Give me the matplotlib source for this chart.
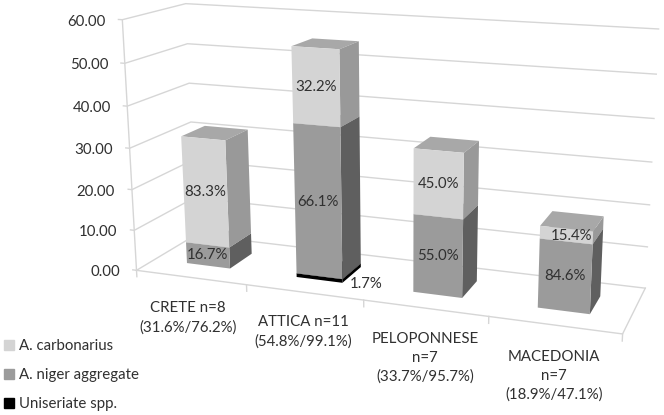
import numpy as np
import matplotlib
matplotlib.use("Agg")
import matplotlib.pyplot as plt
from matplotlib.patches import Patch

plt.rcParams['font.family'] = ['Lato', 'DejaVu Sans']

# ---- data
categories = ["CRETE n=8\n(31.6%/76.2%)", "ATTICA n=11\n(54.8%/99.1%)",
              "PELOPONNESE\nn=7\n(33.7%/95.7%)", "MACEDONIA\nn=7\n(18.9%/47.1%)"]
uniseriate = [0.0, 0.9, 0.0, 0.0]
niger = [5.3, 36.2, 18.5, 16.0]
carbonarius = [26.3, 17.7, 15.2, 2.9]
uniseriate_labels = ["", "1.7%", "", ""]
niger_labels = ["16.7%", "66.1%", "55.0%", "84.6%"]
carbonarius_labels = ["83.3%", "32.2%", "45.0%", "15.4%"]
y_ticks = [0, 10, 20, 30, 40, 50, 60]
legend_labels = ["A. carbonarius", "A. niger aggregate", "Uniseriate spp."]

# ---- camera calibration: (category axis, depth, value) -> picture pixel
calib = [
    (0, 0, 0, 137, 270), (0, 0, 10, 133.5, 230), (0, 0, 20, 131.5, 190),
    (0, 0, 30, 129, 148), (0, 0, 40, 127.5, 106), (0, 0, 50, 125, 63),
    (0, 0, 60, 122.7, 20),
    (0, 1, 60, 185, 4), (0, 1, 50, 187.7, 44), (0, 1, 40, 189.3, 83),
    (0, 1, 30, 191, 122),
    (4, 1, 60, 659, 29), (4, 1, 50, 656, 74), (4, 1, 40, 654, 118),
    (4, 1, 30, 652, 162), (4, 1, 20, 649, 205), (4, 1, 10, 648, 247),
    (4, 1, 0, 645, 288),
    (1, 0, 0, 247, 285), (2, 0, 0, 364, 300), (3, 0, 0, 489, 317),
    (4, 0, 0, 622, 334),
]
rows = []
for u, d, v, px, py in calib:
    rows.append([u, d, v, 1, 0, 0, 0, 0, -px*u, -px*d, -px*v, -px])
    rows.append([0, 0, 0, 0, u, d, v, 1, -py*u, -py*d, -py*v, -py])
P = np.linalg.svd(np.array(rows, float))[2][-1].reshape(3, 4)
if P[2, 3] < 0:
    P = -P

W, H = 664, 415
fig = plt.figure(figsize=(W/100, H/100), dpi=100)
fig.patch.set_facecolor("white")
ax = fig.add_axes([0, 0, 1, 1], projection="3d", computed_zorder=False,
                  proj_type="ortho")
ax.set_axis_off()
ax.apply_aspect = lambda *a, **k: None


def get_proj():
    T = ax.transData.inverted().get_matrix() @ np.array(
        [[1, 0, 0], [0, -1, H], [0, 0, 1]], float)
    A = np.array([[T[0, 0], T[0, 1], 0, T[0, 2]],
                  [T[1, 0], T[1, 1], 0, T[1, 2]],
                  [0, 0, 1, 0],
                  [0, 0, 0, 1]], float)
    M = np.vstack([P[0], P[1], [0, 1, 0, 0], P[2]])
    return A @ M


ax.get_proj = get_proj


def pixel(u, d, v):
    x, y, w = P @ np.array([u, d, v, 1.0])
    return x/w, y/w


def label(px, py, s, **kw):
    kw.setdefault("ha", "center")
    fig.text(px/W, 1 - py/H, s, va="center", color=TXT, fontsize=FS, **kw)


# ---- walls, floor and ticks
GRID = "#d6d6d6"
n = len(categories)
for v in y_ticks:
    ax.plot([-0.035, 0, 0, n], [0, 0, 1, 1], [v, v, v, v], color=GRID, lw=1, zorder=1)
ax.plot([0, 0], [0, 0], [0, 60], color=GRID, lw=1, zorder=1)
ax.plot([0, n, n], [0, 0, 1], [0, 0, 0], color=GRID, lw=1, zorder=1)
for i in range(n + 1):
    ax.plot([i, i], [0, 0], [0, -1.6], color=GRID, lw=1, zorder=1)

# ---- bars (faces: bottom, top, front, back, left, right; unseen faces are clear)
BAR_W, D0, D1 = 0.4, 0.3, 0.7
TOP = "#a8a8a8"
NONE = "#00000000"
series = [
    (uniseriate, [NONE, "#000000", "#000000", NONE, NONE, "#000000"]),
    (niger, [NONE, TOP, "#9b9b9b", NONE, NONE, "#5f5f5f"]),
    (carbonarius, [NONE, TOP, "#d4d4d4", NONE, NONE, "#999999"]),
]
z = 2
for i in range(n):
    base = 0.0
    for values, cols in series:
        h = values[i]
        if h > 0:
            ax.bar3d(i + (1 - BAR_W)/2, D0, base, BAR_W, D1 - D0, h, color=cols,
                     shade=False, linewidth=0, zorder=z)
            z += 1
        base += h

# ---- data labels
TXT = "#303030"
FS = 10.8
for i in range(n):
    xc = i + 0.5
    u, nv, cv = uniseriate[i], niger[i], carbonarius[i]
    label(*pixel(xc, D0, u + nv/2), niger_labels[i])
    label(*pixel(xc + (0.04 if cv < 5 else 0), D0, u + nv + cv/2), carbonarius_labels[i])
    if uniseriate_labels[i]:
        label(*pixel(i + 0.5 + BAR_W/2 + 0.2, D0, u/2), uniseriate_labels[i])

# ---- value-axis labels
for v, (px, py) in zip(y_ticks, [(120, 272), (117, 232), (115, 192), (113, 150),
                                 (111, 108), (109, 65), (106, 22)]):
    label(px, py, f"{v:.2f}", ha="right")

# ---- category labels
for lab, (px, py) in zip(categories, [(188, 318), (303, 332), (425, 358), (554, 376)]):
    label(px, py, lab, linespacing=1.42)

# ---- legend
handles = [Patch(color="#d4d4d4"), Patch(color="#9b9b9b"), Patch(color="#000000")]
fig.legend(handles, legend_labels, loc="lower left", bbox_to_anchor=(4/W, 1 - 411/H),
           bbox_transform=fig.transFigure, frameon=False, fontsize=FS, labelcolor=TXT,
           handlelength=0.65, handleheight=0.65, handletextpad=0.35, labelspacing=1.0,
           borderpad=0, borderaxespad=0)

fig.savefig("out.png", dpi=100)
